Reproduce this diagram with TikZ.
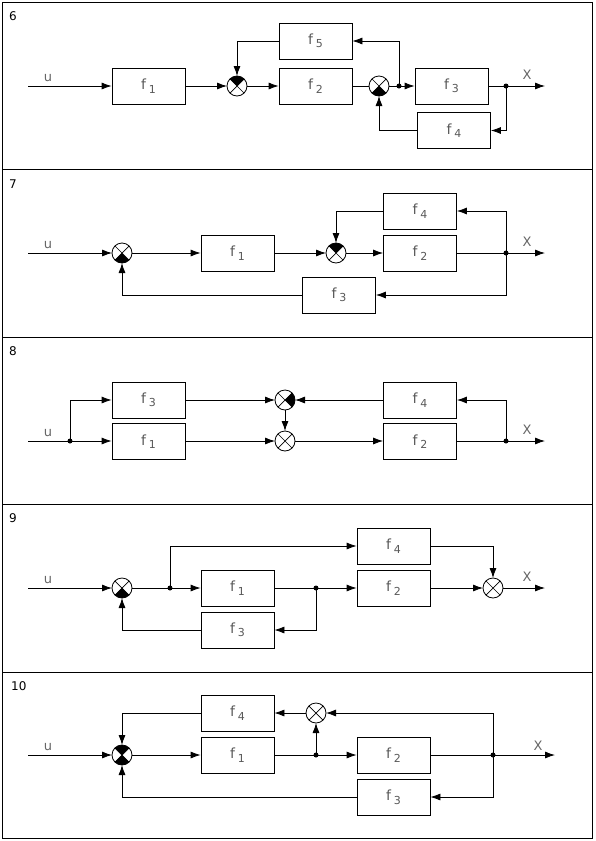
\documentclass[tikz,border=0pt]{standalone}
\usepackage{fontspec}
\setmainfont{DejaVu Sans}
\usetikzlibrary{arrows.meta}
\newcommand\fb[1]{f\hspace{3pt}\raisebox{-3.5pt}{\fontsize{11}{11}\selectfont #1}}
\newcommand\mksum[2]{%
  \node[sj] (#1) at #2 {};
  \draw[line width=0.7pt] (#1.45) -- (#1.225) (#1.135) -- (#1.315);}
\newcommand\qfill[2]{%
  \fill (#1.center) -- ++({45-#2}:10) arc[start angle={45-#2}, end angle={-45-#2}, radius=10] -- cycle;}
\begin{document}
\begin{tikzpicture}[x=1pt,y=-1pt,
  blk/.style={draw, line width=0.8pt, minimum width=73pt, minimum height=36pt, inner sep=0pt,
    font=\fontsize{14}{16}\selectfont, text=black!65},
  sj/.style={circle, draw, line width=0.8pt, minimum size=20pt, inner sep=0pt, outer sep=0pt},
  dot/.style={circle, fill, minimum size=5pt, inner sep=0pt},
  arr/.style={line width=0.8pt, -{Latex[length=10pt,width=7pt]}},
  ln/.style={line width=0.8pt},
  lbl/.style={font=\fontsize{13}{15}\selectfont, text=black!60},
  num/.style={font=\fontsize{12}{14}\selectfont, anchor=west, inner sep=0pt}]
\useasboundingbox (0,0) rectangle (595,841);
\fill[white] (0,0) rectangle (595,841);
% frame
\draw[line width=1pt] (2,2) rectangle (592,838);
\draw[line width=1pt] (2,169.5) -- (592,169.5) (2,337) -- (592,337) (2,504.5) -- (592,504.5) (2,672) -- (592,672);

% ---------- panel 6
\node[num] (n6) at (9,16) {6};
\coordinate (u6) at (28,86);
\node[lbl] (lu6) at (48,78) {u};
\node[blk] (f61) at (148.5,86) {\fb{1}};
\mksum{j61}{(237,86)} \qfill{j61}{90}
\node[blk] (f62) at (315.5,86) {\fb{2}};
\node[blk] (f65) at (315.5,41) {\fb{5}};
\mksum{j62}{(379,86)} \qfill{j62}{270}
\node[blk] (f63) at (451.5,86) {\fb{3}};
\node[blk] (f64) at (454,130.5) {\fb{4}};
\node[dot] (d61) at (399,86) {};
\node[dot] (d62) at (506,86) {};
\coordinate (o6) at (545,86);
\node[lbl] (lx6) at (527,75) {X};
\draw[arr] (u6) -- (f61);
\draw[arr] (f61) -- (j61);
\draw[arr] (f65.west) -| (j61);
\draw[arr] (j61) -- (f62);
\draw[ln] (f62) -- (j62);
\draw[arr] (j62) -- (f63);
\draw[arr] (d61.center) |- (f65.east);
\draw[arr] (f63) -- (o6);
\draw[arr] (d62.center) |- (f64.east);
\draw[arr] (f64.west) -| (j62);

% ---------- panel 7
\node[num] (n7) at (9,184) {7};
\coordinate (u7) at (28,253);
\node[lbl] (lu7) at (48,245) {u};
\mksum{j71}{(122,253)} \qfill{j71}{270}
\node[blk] (f71) at (237.5,253) {\fb{1}};
\mksum{j72}{(336,253)} \qfill{j72}{90}
\node[blk] (f72) at (420,253) {\fb{2}};
\node[blk] (f74) at (420,211) {\fb{4}};
\node[blk] (f73) at (339,295) {\fb{3}};
\node[dot] (d71) at (506,253) {};
\coordinate (o7) at (545,253);
\node[lbl] (lx7) at (527,242) {X};
\draw[arr] (u7) -- (j71);
\draw[arr] (j71) -- (f71);
\draw[arr] (f71) -- (j72);
\draw[arr] (j72) -- (f72);
\draw[arr] (f72) -- (o7);
\draw[arr] (d71.center) |- (f74.east);
\draw[arr] (f74.west) -| (j72);
\draw[arr] (d71.center) |- (f73.east);
\draw[arr] (f73.west) -| (j71);

% ---------- panel 8
\node[num] (n8) at (9,351) {8};
\coordinate (u8) at (28,441);
\node[lbl] (lu8) at (48,433) {u};
\node[dot] (d81) at (70,441) {};
\node[blk] (f83) at (148.5,400) {\fb{3}};
\node[blk] (f81) at (148.5,441.5) {\fb{1}};
\mksum{j81}{(285,400)} \qfill{j81}{0}
\mksum{j82}{(285,441)}
\node[blk] (f82) at (420,441.5) {\fb{2}};
\node[blk] (f84) at (420,400) {\fb{4}};
\node[dot] (d82) at (506,441) {};
\coordinate (o8) at (545,441);
\node[lbl] (lx8) at (527,430) {X};
\draw[arr] (u8) -- (f81.west |- u8);
\draw[arr] (d81.center) |- (f83.west);
\draw[arr] (f83) -- (j81);
\draw[arr] (f81.east |- j82) -- (j82);
\draw[arr] (j81) -- (j82);
\draw[arr] (j82) -- (f82.west |- j82);
\draw[arr] (f82.east |- d82) -- (o8);
\draw[arr] (d82.center) |- (f84.east);
\draw[arr] (f84) -- (j81);

% ---------- panel 9
\node[num] (n9) at (9,518) {9};
\coordinate (u9) at (28,588);
\node[lbl] (lu9) at (48,580) {u};
\mksum{j91}{(122,588)} \qfill{j91}{270}
\node[dot] (d91) at (170,588) {};
\node[blk] (f91) at (237.5,588) {\fb{1}};
\node[blk] (f94) at (393.5,546) {\fb{4}};
\node[blk] (f92) at (393.5,588) {\fb{2}};
\node[blk] (f93) at (237.5,630) {\fb{3}};
\node[dot] (d92) at (316,588) {};
\mksum{j92}{(493,588)}
\coordinate (o9) at (545,588);
\node[lbl] (lx9) at (527,577) {X};
\draw[arr] (u9) -- (j91);
\draw[arr] (j91) -- (f91);
\draw[arr] (d91.center) |- (f94.west);
\draw[arr] (f91) -- (f92);
\draw[arr] (d92.center) |- (f93.east);
\draw[arr] (f93.west) -| (j91);
\draw[arr] (f92) -- (j92);
\draw[arr] (f94.east) -| (j92);
\draw[arr] (j92) -- (o9);

% ---------- panel 10
\node[num] (n10) at (11,686) {10};
\coordinate (u10) at (28,755);
\node[lbl] (lu10) at (48,747) {u};
\mksum{j101}{(122,755)} \qfill{j101}{90} \qfill{j101}{270}
\node[blk] (f101) at (237.5,755) {\fb{1}};
\node[blk] (f104) at (237.5,713) {\fb{4}};
\mksum{j102}{(316,713)}
\node[dot] (d101) at (316,755) {};
\node[blk] (f102) at (393.5,755) {\fb{2}};
\node[blk] (f103) at (393.5,797) {\fb{3}};
\node[dot] (d102) at (493,755) {};
\coordinate (o10) at (555,755);
\node[lbl] (lx10) at (538,746) {X};
\draw[arr] (u10) -- (j101);
\draw[arr] (j101) -- (f101);
\draw[arr] (f101) -- (f102);
\draw[arr] (d101.center) -- (j102);
\draw[arr] (j102) -- (f104);
\draw[arr] (f104.west) -| (j101);
\draw[arr] (f102) -- (o10);
\draw[arr] (d102.center) |- (j102);
\draw[arr] (d102.center) |- (f103.east);
\draw[arr] (f103.west) -| (j101);
\end{tikzpicture}
\end{document}
